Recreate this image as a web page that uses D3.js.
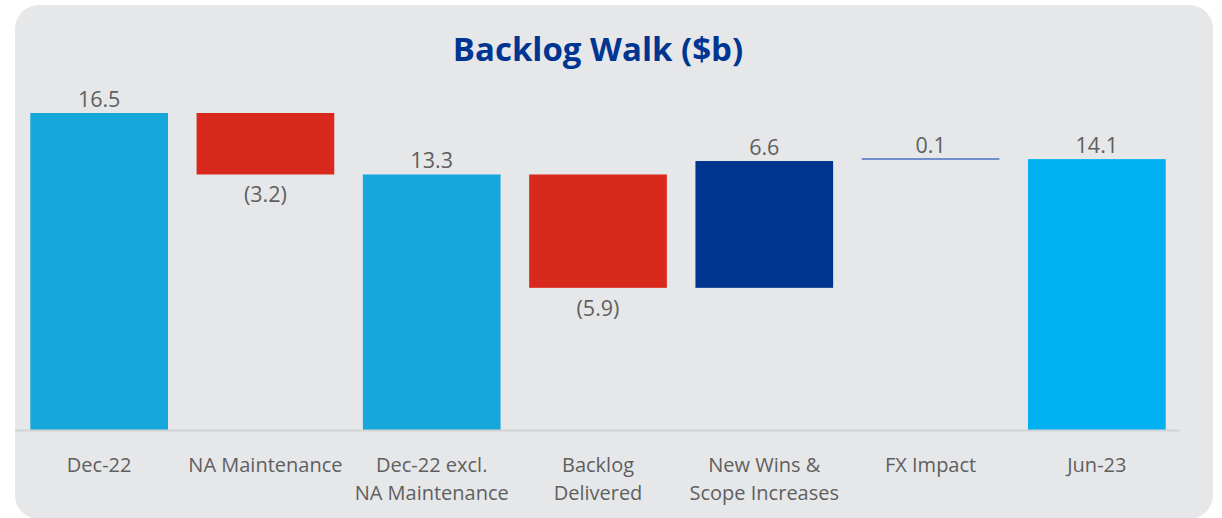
<!DOCTYPE html>
<html>
<head>
<meta charset="utf-8">
<script src="https://cdn.jsdelivr.net/npm/d3@7/dist/d3.min.js"></script>
<style>
  html, body { margin: 0; padding: 0; background: #ffffff; }
  svg { display: block; }
</style>
</head>
<body>
<svg id="chart" width="1222" height="518"></svg>
<script>
// Backlog walk data ($b)
const categories = ["Dec-22", "NA Maintenance", "Dec-22 excl.\nNA Maintenance", "Backlog\nDelivered", "New Wins &\nScope Increases", "FX Impact", "Jun-23"];
const values = [16.5, -3.2, 13.3, -5.9, 6.6, 0.1, 14.1];
const kinds = ["total", "step", "total", "step", "step", "step", "total"];
const valueLabels = ["16.5", "(3.2)", "13.3", "(5.9)", "6.6", "0.1", "14.1"];

const colors = {
  total: "#16a8db",
  totalEnd: "#00b0f0",
  down: "#d9291c",
  up: "#00358f",
  fx: "#4a72c0"
};

const svg = d3.select("#chart");

// panel background
svg.append("rect")
  .attr("x", 15).attr("y", 5)
  .attr("width", 1198).attr("height", 514)
  .attr("rx", 24).attr("ry", 24)
  .attr("fill", "#e6e7e9");

// title
svg.append("text")
  .attr("x", 598).attr("y", 61)
  .attr("text-anchor", "middle")
  .attr("font-family", "'Open Sans', 'Noto Sans', sans-serif")
  .attr("font-weight", 700)
  .attr("font-size", 33)
  .attr("fill", "#003591")
  .text("Backlog Walk ($b)");

// compute waterfall extents
let running = 0;
const bars = values.map((v, i) => {
  let y0, y1;
  if (kinds[i] === "total") {
    y0 = 0; y1 = v; running = v;
  } else {
    y0 = running; y1 = running + v; running = y1;
  }
  return { i, v, kind: kinds[i], lo: Math.min(y0, y1), hi: Math.max(y0, y1), label: valueLabels[i], cat: categories[i] };
});

const x = d3.scaleBand()
  .domain(d3.range(categories.length))
  .range([16, 1180])
  .paddingInner(0.172)
  .paddingOuter(0.086);

const y = d3.scaleLinear()
  .domain([0, 16.5])
  .range([430, 113]);

function fillFor(b) {
  if (b.kind === "total") return b.i === categories.length - 1 ? colors.totalEnd : colors.total;
  if (b.i === 5) return colors.fx;
  return b.v < 0 ? colors.down : colors.up;
}

// bars
svg.append("g").selectAll("rect")
  .data(bars.filter(b => b.i !== 5))
  .join("rect")
  .attr("x", b => x(b.i))
  .attr("width", x.bandwidth())
  .attr("y", b => y(b.hi))
  .attr("height", b => y(b.lo) - y(b.hi))
  .attr("fill", fillFor);

// FX impact is too small for a bar: draw as a thin line at its level
const fx = bars[5];
svg.append("line")
  .attr("x1", x(5)).attr("x2", x(5) + x.bandwidth())
  .attr("y1", y(fx.hi)).attr("y2", y(fx.hi))
  .attr("stroke", colors.fx)
  .attr("stroke-width", 1.5);

// baseline axis
const axis = d3.axisBottom(x).tickSize(0).tickFormat("");
const axisG = svg.append("g").attr("transform", `translate(0,${y(0)})`).call(axis);
axisG.select(".domain")
  .attr("d", `M15,0.5H1180`)
  .attr("stroke", "#d2d3d5")
  .attr("stroke-width", 2);

// value labels
svg.append("g").selectAll("text")
  .data(bars)
  .join("text")
  .attr("x", b => x(b.i) + x.bandwidth() / 2)
  .attr("y", b => b.v < 0 ? y(b.lo) + 28 : y(b.hi) - 6)
  .attr("text-anchor", "middle")
  .attr("font-family", "'Open Sans', 'Noto Sans', sans-serif")
  .attr("font-size", 21.5)
  .attr("fill", "#5f5f5f")
  .text(b => b.label);

// category labels
const catG = svg.append("g")
  .attr("font-family", "'Open Sans', 'Noto Sans', sans-serif")
  .attr("font-size", 20)
  .attr("fill", "#5f5f5f")
  .attr("text-anchor", "middle");
bars.forEach(b => {
  const lines = b.cat.split("\n");
  const t = catG.append("text")
    .attr("x", x(b.i) + x.bandwidth() / 2)
    .attr("y", 472);
  lines.forEach((ln, k) => {
    t.append("tspan")
      .attr("x", x(b.i) + x.bandwidth() / 2)
      .attr("dy", k === 0 ? 0 : 28)
      .text(ln);
  });
});
</script>
</body>
</html>
